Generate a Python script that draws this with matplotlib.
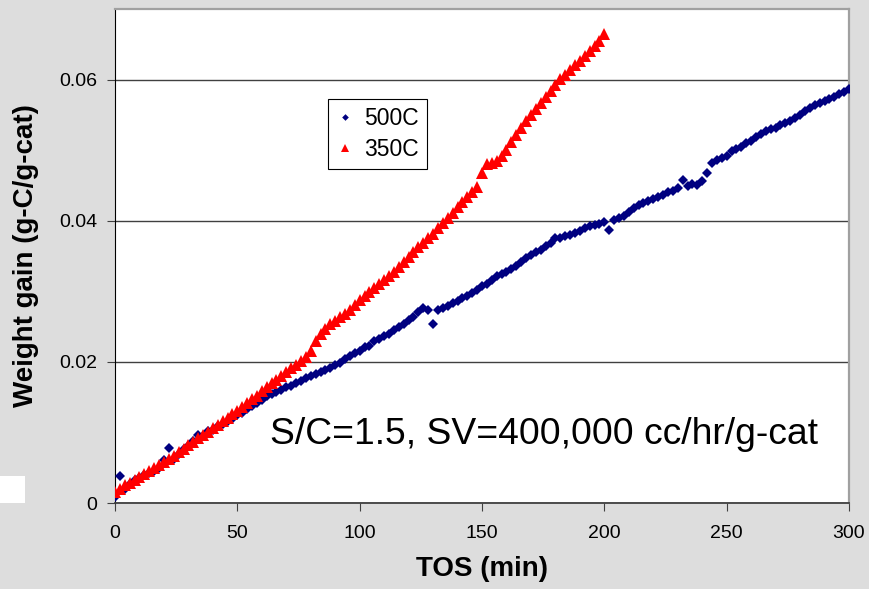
import numpy as np
import matplotlib.pyplot as plt
from matplotlib.patches import Rectangle

plt.rcParams['font.family'] = ['Liberation Sans', 'DejaVu Sans']

# time on stream (min), sampled every 2 min
tos_350 = np.arange(0, 201, 2)
tos_500 = np.arange(0, 301, 2)

# weight gain (g-C/g-cat)
gain_350 = [
    0.0016, 0.0020, 0.0025, 0.0029, 0.0033, 0.0037, 0.0041, 0.0045, 0.0049, 0.0054,
    0.0058, 0.0063, 0.0067, 0.0072, 0.0077, 0.0082, 0.0087, 0.0092, 0.0096, 0.0101,
    0.0106, 0.0111, 0.0116, 0.0121, 0.0126, 0.0131, 0.0136, 0.0141, 0.0147, 0.0152,
    0.0158, 0.0164, 0.0170, 0.0175, 0.0180, 0.0186, 0.0191, 0.0196, 0.0201, 0.0207,
    0.0216, 0.0229, 0.0240, 0.0247, 0.0253, 0.0258, 0.0263, 0.0268, 0.0274, 0.0280,
    0.0287, 0.0293, 0.0299, 0.0305, 0.0311, 0.0316, 0.0322, 0.0328, 0.0334, 0.0341,
    0.0348, 0.0355, 0.0363, 0.0369, 0.0375, 0.0381, 0.0389, 0.0397, 0.0404, 0.0411,
    0.0419, 0.0426, 0.0433, 0.0441, 0.0448, 0.0468, 0.0480, 0.0482, 0.0485, 0.0492,
    0.0500, 0.0512, 0.0522, 0.0531, 0.0541, 0.0550, 0.0559, 0.0567, 0.0575, 0.0584,
    0.0592, 0.0601, 0.0607, 0.0613, 0.0620, 0.0627, 0.0634, 0.0641, 0.0647, 0.0655,
    0.0664,
]
gain_500 = [
    0.0009, 0.0038, 0.0020, 0.0027, 0.0033, 0.0036, 0.0039, 0.0042, 0.0046, 0.0050,
    0.0061, 0.0078, 0.0062, 0.0069, 0.0076, 0.0081, 0.0088, 0.0097, 0.0095, 0.0102,
    0.0104, 0.0109, 0.0112, 0.0116, 0.0119, 0.0124, 0.0128, 0.0133, 0.0138, 0.0142,
    0.0146, 0.0151, 0.0154, 0.0157, 0.0160, 0.0164, 0.0166, 0.0170, 0.0173, 0.0177,
    0.0180, 0.0183, 0.0186, 0.0188, 0.0192, 0.0196, 0.0199, 0.0204, 0.0208, 0.0212,
    0.0216, 0.0221, 0.0222, 0.0229, 0.0233, 0.0237, 0.0240, 0.0245, 0.0249, 0.0253,
    0.0259, 0.0264, 0.0270, 0.0276, 0.0273, 0.0254, 0.0273, 0.0276, 0.0279, 0.0283,
    0.0286, 0.0290, 0.0293, 0.0297, 0.0302, 0.0307, 0.0311, 0.0316, 0.0321, 0.0325,
    0.0327, 0.0331, 0.0336, 0.0341, 0.0347, 0.0352, 0.0356, 0.0358, 0.0364, 0.0369,
    0.0375, 0.0376, 0.0378, 0.0380, 0.0383, 0.0386, 0.0390, 0.0392, 0.0394, 0.0396,
    0.0398, 0.0387, 0.0401, 0.0404, 0.0407, 0.0412, 0.0418, 0.0422, 0.0425, 0.0428,
    0.0431, 0.0433, 0.0436, 0.0440, 0.0442, 0.0446, 0.0458, 0.0449, 0.0452, 0.0450,
    0.0456, 0.0468, 0.0482, 0.0486, 0.0489, 0.0492, 0.0499, 0.0502, 0.0505, 0.0510,
    0.0513, 0.0518, 0.0523, 0.0527, 0.0530, 0.0532, 0.0535, 0.0538, 0.0542, 0.0546,
    0.0550, 0.0555, 0.0560, 0.0564, 0.0567, 0.0569, 0.0572, 0.0575, 0.0579, 0.0582,
    0.0586,
]

bg = '#dddddd'
fig = plt.figure(figsize=(8.69, 5.89), dpi=100, facecolor=bg)
ax = fig.add_axes([115 / 869, 86 / 589, 734 / 869, 494 / 589])
ax.set_facecolor('white')

# odd white patch at the left of the slide
fig.patches.append(Rectangle((0, 86 / 589), 25 / 869, 27 / 589,
                             transform=fig.transFigure, facecolor='white',
                             edgecolor='none'))

ax.plot(tos_500, gain_500, linestyle='none', marker='D', markersize=5.2,
        color='#000080', markeredgewidth=0, label='500C', zorder=3)
ax.plot(tos_350, gain_350, linestyle='none', marker='^', markersize=9,
        color='#ff0000', markeredgewidth=0, label='350C', zorder=4)

ax.set_xlim(0, 300)
ax.set_ylim(0, 0.07)
ax.set_xticks([0, 50, 100, 150, 200, 250, 300])
ax.set_yticks([0, 0.02, 0.04, 0.06])
ax.set_yticklabels(['0', '0.02', '0.04', '0.06'])
ax.yaxis.grid(True, color='#404040', linewidth=1)
ax.set_axisbelow(True)

ax.tick_params(axis='both', labelsize=14, direction='out', length=6,
               color='#404040')
ax.tick_params(axis='x', pad=10)
ax.tick_params(axis='y', pad=7)

ax.spines['left'].set_color('black')
ax.spines['bottom'].set_color('#404040')
ax.spines['bottom'].set_linewidth(1.3)
for s in ['top', 'right']:
    ax.spines[s].set_color('#a0a0a0')
    ax.spines[s].set_linewidth(1.6)

ax.set_xlabel('TOS (min)', fontsize=20, fontweight='bold', labelpad=10)
ax.set_ylabel('Weight gain (g-C/g-cat)', fontsize=20, fontweight='bold',
              labelpad=14)

ax.text(63.5, 0.0083, 'S/C=1.5, SV=400,000 cc/hr/g-cat', fontsize=26.8,
        ha='left', va='baseline')

leg = ax.legend(loc='upper left', bbox_to_anchor=(0.290, 0.818),
                borderaxespad=0, fontsize=16.5, fancybox=False,
                edgecolor='black', framealpha=1, handlelength=0.8,
                handletextpad=0.45, markerscale=0.65, borderpad=0.35,
                labelspacing=0.35)
leg.get_frame().set_linewidth(0.8)

fig.savefig('out.png', dpi=100, facecolor=bg)
